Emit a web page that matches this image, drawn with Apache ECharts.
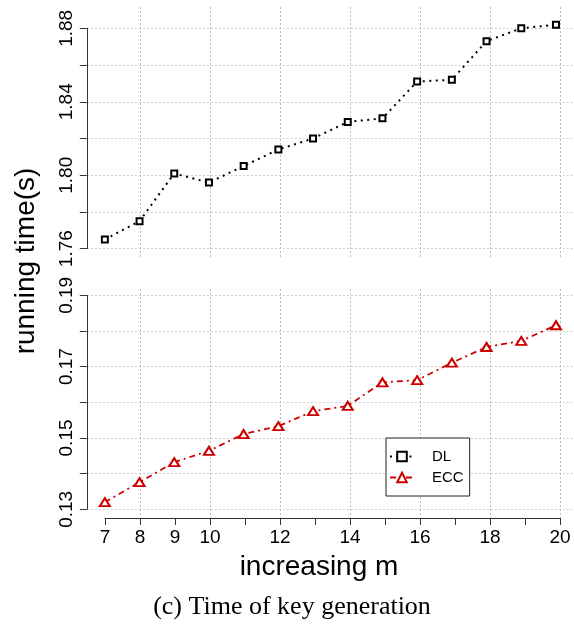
<!DOCTYPE html>
<html>
<head>
<meta charset="utf-8">
<script src="https://cdn.jsdelivr.net/npm/echarts@6/dist/echarts.min.js"></script>
<style>
html,body{margin:0;padding:0;background:#fff;}
#chart{width:574px;height:626px;}
</style>
</head>
<body>
<div id="chart"></div>
<script>
// ---- data ----
const mValues = [7, 8, 9, 10, 11, 12, 13, 14, 15, 16, 17, 18, 19, 20];
const dlTimes = [1.765, 1.775, 1.801, 1.796, 1.805, 1.814, 1.820, 1.829, 1.831, 1.851, 1.852, 1.873, 1.880, 1.882];
const eccTimes = [0.132, 0.1376, 0.1432, 0.1464, 0.1511, 0.1533, 0.1575, 0.159, 0.1656, 0.1662, 0.1711, 0.1755, 0.1772, 0.1816];
const xTickLabels = [7, 8, 9, 10, 12, 14, 16, 18, 20];
const xGridValues = [8, 10, 12, 14, 16, 18, 20];
const dlTickLabels = ['1.76', '1.80', '1.84', '1.88'];
const eccTickLabels = ['0.13', '0.15', '0.17', '0.19'];
const seriesNames = ['DL', 'ECC'];
const yAxisTitle = 'running time(s)';
const xAxisTitle = 'increasing m';
const caption = '(c) Time of key generation';

const FONT = '"Liberation Sans", Arial, sans-serif';
const AXIS_COLOR = '#333';
const GRID_COLOR = '#d0d0d0';
const RED = '#cd0000';

const chart = echarts.init(document.getElementById('chart'), null, {renderer: 'canvas'});

const pairs = (ys) => mValues.map((m, i) => [m, ys[i]]);

// horizontal scale: 7 -> 105px, 20 -> 560px (35px per unit, integer pixel positions)
const PX0 = 105, PXU = 35;

function yAxisFor(gridIndex, min, max, interval, labels) {
  return {
    type: 'value', gridIndex, min, max, interval,
    axisLine: {show: true, lineStyle: {color: AXIS_COLOR, width: 1}},
    axisTick: {show: true, inside: false, length: 7, lineStyle: {color: AXIS_COLOR, width: 1}},
    axisLabel: {
      rotate: 90, margin: 11, color: '#000', fontSize: 19, fontFamily: FONT,
      formatter: (v) => { const s = v.toFixed(2); return labels.indexOf(s) >= 0 ? s : ''; }
    },
    splitLine: {show: true, lineStyle: {color: GRID_COLOR, width: 1, type: [2, 2]}}
  };
}

function hiddenValueX(gridIndex) {
  return {type: 'value', gridIndex, min: 6.48, max: 20.52, show: false};
}

function hiddenY(gridIndex) {
  return {type: 'value', gridIndex, min: 0, max: 1, interval: 1,
    axisLine: {show: false}, axisTick: {show: false}, axisLabel: {show: false}, splitLine: {show: false}};
}

function vGridX(gridIndex) {
  return {
    type: 'value', gridIndex, min: 8, max: 20, interval: 2,
    axisLine: {show: false, onZero: false}, axisTick: {show: false}, axisLabel: {show: false},
    splitLine: {show: true, lineStyle: {color: '#bdbdbd', width: 1, type: [2, 2]}}
  };
}

const option = {
  animation: false,
  backgroundColor: '#fff',
  grid: [
    {left: PX0 + PXU, width: 12 * PXU, top: 7, height: 252},          // 0 top vertical grid
    {left: PX0 + PXU, width: 12 * PXU, top: 289, height: 229},        // 1 bottom vertical grid
    {left: PX0 - 0.52 * PXU, width: 14.04 * PXU, top: 28.3, height: 220.4},  // 2 top data
    {left: PX0 - 0.52 * PXU, width: 14.04 * PXU, top: 295.3, height: 214},   // 3 bottom data
    {left: PX0, width: 13 * PXU, top: 289, height: 229}               // 4 x axis
  ],
  xAxis: [
    vGridX(0),
    vGridX(1),
    hiddenValueX(2),
    hiddenValueX(3),
    {
      type: 'value', gridIndex: 4, min: 7, max: 20, interval: 1,
      axisLine: {show: true, onZero: false, lineStyle: {color: AXIS_COLOR, width: 1}},
      axisTick: {show: true, length: 7, lineStyle: {color: AXIS_COLOR, width: 1}},
      axisLabel: {
        margin: 10, color: '#000', fontSize: 19, fontFamily: FONT,
        formatter: (v) => xTickLabels.indexOf(Math.round(v)) >= 0 ? String(Math.round(v)) : ''
      },
      splitLine: {show: false}
    }
  ],
  yAxis: [
    hiddenY(0),
    hiddenY(1),
    yAxisFor(2, 1.76, 1.88, 0.02, dlTickLabels),
    yAxisFor(3, 0.13, 0.19, 0.01, eccTickLabels),
    hiddenY(4)
  ],
  legend: {
    data: seriesNames,
    orient: 'vertical',
    left: 386, top: 438,
    itemWidth: 24, itemHeight: 12, itemGap: 6,
    padding: [11, 6, 11, 3],
    backgroundColor: '#fff',
    borderColor: '#222', borderWidth: 1, borderRadius: 0,
    textStyle: {fontSize: 15, fontFamily: FONT, color: '#000', padding: [0, 0, 0, 13]},
    z: 10
  },
  series: [
    {name: 'vgrid-top', type: 'line', xAxisIndex: 0, yAxisIndex: 0, data: [], silent: true},
    {name: 'vgrid-bottom', type: 'line', xAxisIndex: 1, yAxisIndex: 1, data: [], silent: true},
    {name: 'xaxis', type: 'line', xAxisIndex: 4, yAxisIndex: 4, data: [], silent: true},
    {
      name: seriesNames[0], type: 'line', xAxisIndex: 2, yAxisIndex: 2,
      data: pairs(dlTimes), clip: false,
      symbol: 'emptyRect', symbolSize: 6,
      lineStyle: {color: '#000', width: 2, type: [2, 4.5]},
      itemStyle: {color: '#000', borderWidth: 1.8},
      z: 5
    },
    {
      name: seriesNames[1], type: 'line', xAxisIndex: 3, yAxisIndex: 3,
      data: pairs(eccTimes), clip: false,
      symbol: 'emptyTriangle', symbolSize: [10, 8],
      lineStyle: {color: RED, width: 1.8, type: [6, 4, 2, 4]},
      itemStyle: {color: RED, borderWidth: 1.8},
      z: 5
    }
  ],
  graphic: [
    {type: 'text', x: 26, y: 261, rotation: Math.PI / 2,
      style: {text: yAxisTitle, font: '28px ' + FONT, fill: '#000', align: 'center', verticalAlign: 'middle'}},
    {type: 'text', x: 319, y: 567,
      style: {text: xAxisTitle, font: '28px ' + FONT, fill: '#000', align: 'center', verticalAlign: 'middle'}},
    {type: 'text', x: 292, y: 607,
      style: {text: caption, font: '26px "Liberation Serif", "Times New Roman", serif', fill: '#000', align: 'center', verticalAlign: 'middle'}}
  ]
};

chart.setOption(option);
</script>
</body>
</html>
